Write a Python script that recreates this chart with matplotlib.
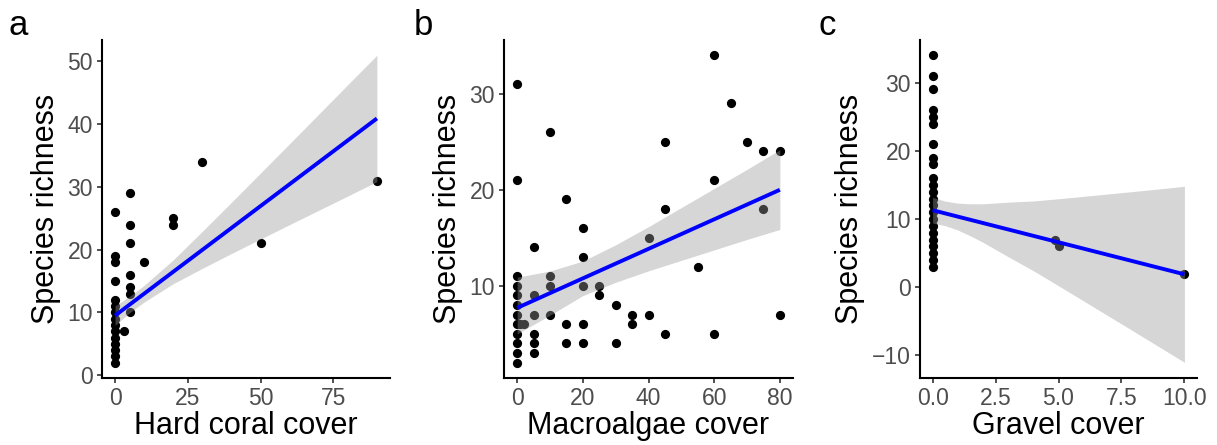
import matplotlib
matplotlib.use("Agg")
import matplotlib.pyplot as plt

plt.rcParams["font.family"] = ["Liberation Sans", "DejaVu Sans"]

# a: hard coral cover
coral_x = [0] * 15 + [3] + [5] * 7 + [10, 20, 20, 30, 50, 90]
coral_y = [2, 3, 4, 5, 6, 7, 8, 9, 10, 11, 12, 15, 18, 19, 26,
           7,
           10, 13, 14, 16, 21, 24, 29,
           18, 24, 25, 34, 21, 31]
coral_fit_x = [0, 90]
coral_fit_y = [9.5, 40.9]
coral_band_x = [0, 5, 10, 20, 30, 40, 50, 60, 70, 80, 90]
coral_band_lo = [7.95, 9.95, 11.66, 14.58, 17.02, 19.38, 21.69, 23.99, 26.27, 28.55, 30.84]
coral_band_hi = [11.05, 12.55, 14.32, 18.38, 22.92, 27.54, 32.21, 36.89, 41.59, 46.29, 50.98]

# b: macroalgae cover
algae_x = ([0] * 12 + [1, 2] + [5] * 6 + [10] * 4 + [15] * 3 + [20] * 5
           + [25, 25, 30, 30, 35, 35, 40, 40, 45, 45, 45, 55, 60, 60, 60,
              65, 70, 75, 75, 80, 80])
algae_y = ([31, 21, 11, 10, 9, 8, 7, 6, 5, 4, 3, 2] + [6, 6]
           + [14, 9, 7, 5, 4, 3] + [26, 11, 10, 7] + [19, 6, 4]
           + [16, 13, 10, 6, 4]
           + [10, 9, 8, 4, 7, 6, 15, 7, 25, 18, 5, 12, 34, 21, 5,
              29, 25, 24, 18, 24, 7])
algae_fit_x = [0, 80]
algae_fit_y = [7.7, 20.0]
algae_band_x = [0, 10, 20, 30, 40, 50, 60, 70, 80]
algae_band_lo = [5.0, 6.94, 8.98, 10.37, 11.56, 12.65, 13.74, 14.83, 15.87]
algae_band_hi = [10.9, 11.54, 12.58, 14.27, 16.16, 18.15, 20.14, 22.13, 24.17]

# c: gravel cover
gravel_x = [0] * 23 + [4.88, 5.0, 10]
gravel_y = [3, 4, 5, 6, 7, 8, 9, 10, 11, 12, 13, 14, 15, 16,
            18, 19, 21, 24, 25, 26, 29, 31, 34,
            7, 6, 2]
gravel_fit_x = [0, 10]
gravel_fit_y = [11.3, 1.9]
gravel_band_x = [0, 0.5, 1, 1.5, 2, 3, 4, 5, 6, 7, 8, 9, 10]
gravel_band_lo = [9.42, 9.03, 8.39, 7.54, 6.6, 4.48, 2.43, 0.22, -2.01, -4.25, -6.49, -8.74, -11.0]
gravel_band_hi = [13.18, 12.63, 12.33, 12.24, 12.24, 12.48, 12.65, 12.98, 13.33, 13.69, 14.05, 14.42, 14.8]

W, H = 1217, 445
fig = plt.figure(figsize=(W / 100, H / 100), dpi=100)


def px_axes(left, right, top, bottom):
    return fig.add_axes([left / W, 1 - bottom / H, (right - left) / W, (bottom - top) / H])


def panel(ax, x, y, fx, fy, bx, blo, bhi, xlabel, xlim, ylim, xticks, yticks, xticklabels):
    ax.scatter(x, y, s=44, color="black", linewidths=0, zorder=2)
    ax.fill_between(bx, blo, bhi, color="#999999", alpha=0.4, linewidth=0, zorder=3)
    ax.plot(fx, fy, color="#0000ff", linewidth=2.8, zorder=4, solid_capstyle="butt")
    ax.set_xlim(xlim)
    ax.set_ylim(ylim)
    ax.set_xticks(xticks)
    ax.set_xticklabels(xticklabels)
    ax.set_yticks(yticks)
    for s in ["top", "right"]:
        ax.spines[s].set_visible(False)
    for s in ["left", "bottom"]:
        ax.spines[s].set_linewidth(1.5)
        ax.spines[s].set_color("black")
    ax.tick_params(length=3.5, width=1.2, color="#333333", labelcolor="#4d4d4d",
                   labelsize=16.5, pad=3)
    ax.set_xlabel(xlabel, fontsize=22, labelpad=1)
    ax.set_ylabel("Species richness", fontsize=22, labelpad=5)


ax_a = px_axes(102, 390, 40, 378)
panel(ax_a, coral_x, coral_y, coral_fit_x, coral_fit_y, coral_band_x, coral_band_lo,
      coral_band_hi, "Hard coral cover", (-4.5, 94.5), (-0.45, 53.4),
      [0, 25, 50, 75], [0, 10, 20, 30, 40, 50], ["0", "25", "50", "75"])

ax_b = px_axes(504, 793, 40, 378)
panel(ax_b, algae_x, algae_y, algae_fit_x, algae_fit_y, algae_band_x, algae_band_lo,
      algae_band_hi, "Macroalgae cover", (-4, 84), (0.4, 35.6),
      [0, 20, 40, 60, 80], [10, 20, 30], ["0", "20", "40", "60", "80"])

ax_c = px_axes(920, 1197, 40, 378)
panel(ax_c, gravel_x, gravel_y, gravel_fit_x, gravel_fit_y, gravel_band_x, gravel_band_lo,
      gravel_band_hi, "Gravel cover", (-0.5, 10.5), (-13.3, 36.25),
      [0, 2.5, 5, 7.5, 10], [-10, 0, 10, 20, 30], ["0.0", "2.5", "5.0", "7.5", "10.0"])

for lx, lab in [(9, "a"), (414, "b"), (818, "c")]:
    fig.text(lx / W, 1 - 35 / H, lab, fontsize=25, va="baseline", ha="left")

fig.savefig("out.png", dpi=100)
